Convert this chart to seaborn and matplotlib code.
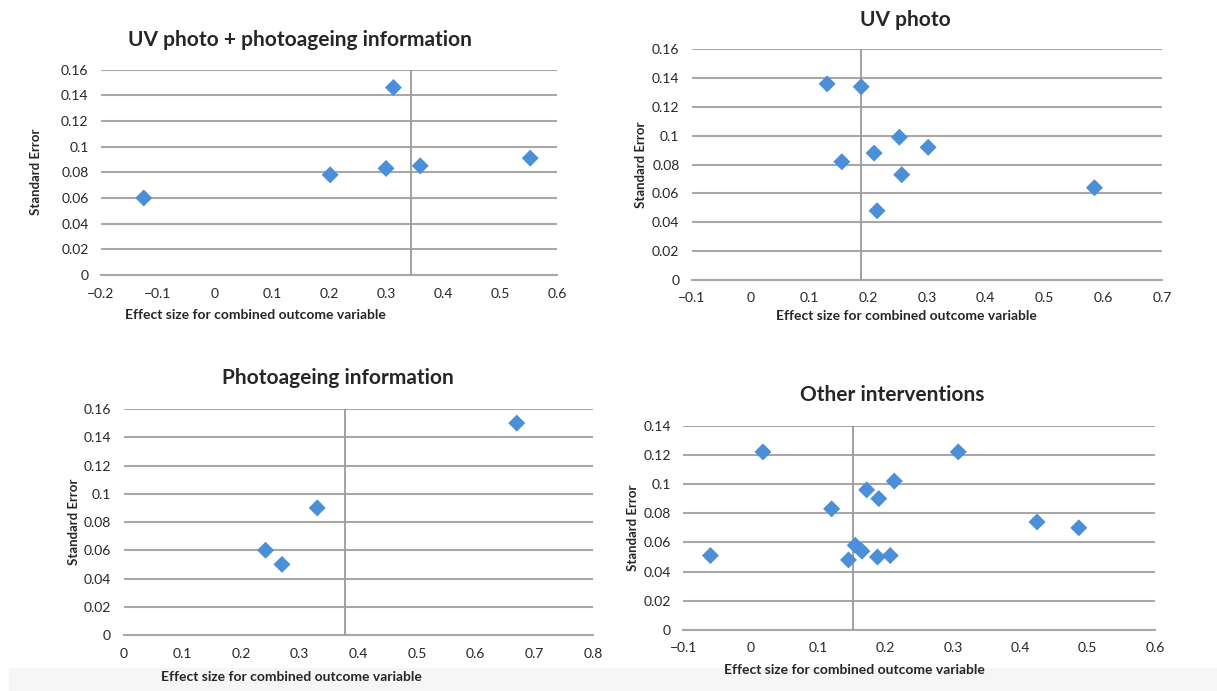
import matplotlib.pyplot as plt
import pandas as pd
import seaborn as sns
from matplotlib.patches import Rectangle
from matplotlib.ticker import FuncFormatter

# panel titles
titles = ["UV photo + photoageing information", "UV photo",
          "Photoageing information", "Other interventions"]

# UV photo + photoageing information
uv_info_effect = [-0.125, 0.202, 0.300, 0.313, 0.360, 0.553]
uv_info_se = [0.060, 0.078, 0.083, 0.146, 0.085, 0.091]

# UV photo
uv_effect = [0.130, 0.188, 0.155, 0.210, 0.253, 0.302, 0.257, 0.215, 0.585]
uv_se = [0.136, 0.134, 0.082, 0.088, 0.099, 0.092, 0.073, 0.048, 0.064]

# Photoageing information
info_effect = [0.242, 0.270, 0.330, 0.670]
info_se = [0.060, 0.050, 0.090, 0.150]

# Other interventions
other_effect = [-0.060, 0.018, 0.120, 0.145, 0.155, 0.165, 0.172, 0.188,
                0.190, 0.207, 0.213, 0.308, 0.425, 0.487]
other_se = [0.051, 0.122, 0.083, 0.048, 0.058, 0.054, 0.096, 0.050,
            0.090, 0.051, 0.102, 0.122, 0.074, 0.070]

# pooled effect (vertical reference line) per panel
pooled = [0.344, 0.188, 0.378, 0.152]

# axis ticks per panel
x_ticks = [
    [-0.2, -0.1, 0, 0.1, 0.2, 0.3, 0.4, 0.5, 0.6],
    [-0.1, 0, 0.1, 0.2, 0.3, 0.4, 0.5, 0.6, 0.7],
    [0, 0.1, 0.2, 0.3, 0.4, 0.5, 0.6, 0.7, 0.8],
    [-0.1, 0, 0.1, 0.2, 0.3, 0.4, 0.5, 0.6],
]
y_ticks = [
    [0, 0.02, 0.04, 0.06, 0.08, 0.1, 0.12, 0.14, 0.16],
    [0, 0.02, 0.04, 0.06, 0.08, 0.1, 0.12, 0.14, 0.16],
    [0, 0.02, 0.04, 0.06, 0.08, 0.1, 0.12, 0.14, 0.16],
    [0, 0.02, 0.04, 0.06, 0.08, 0.1, 0.12, 0.14],
]

x_label = "Effect size for combined outcome variable"
y_label = "Standard Error"

panels = [
    pd.DataFrame({"effect": uv_info_effect, "se": uv_info_se}),
    pd.DataFrame({"effect": uv_effect, "se": uv_se}),
    pd.DataFrame({"effect": info_effect, "se": info_se}),
    pd.DataFrame({"effect": other_effect, "se": other_se}),
]

# layout: axes rects, title positions, label offsets (figure / axes fractions)
rects = [
    [0.0830, 0.6020, 0.3747, 0.2974],
    [0.5686, 0.5948, 0.3862, 0.3339],
    [0.1015, 0.0810, 0.3858, 0.3271],
    [0.5616, 0.0883, 0.3874, 0.2957],
]
title_pos = [(0.2465, 0.942), (0.7436, 0.971), (0.2777, 0.453), (0.733, 0.428)]
xlabel_pos = [(0.338, -0.195), (0.457, -0.156), (0.357, -0.186), (0.362, -0.196)]
ylabel_x = [-0.142, -0.108, -0.105, -0.107]

sns.set_style("white")
plt.rcParams["font.family"] = ["Lato", "DejaVu Sans"]

grid_col = "#a8a8a8"
fmt = FuncFormatter(lambda v, p: f"{v:g}".replace("-", "\u2212"))

fig = plt.figure(figsize=(12.17, 6.91), dpi=100)
# light grey strip along the bottom edge of the source image
fig.patches.append(Rectangle((0.007, 0), 0.993, 23 / 691, transform=fig.transFigure,
                             color="#f6f6f6", zorder=-5))

for i, df in enumerate(panels):
    ax = fig.add_axes(rects[i])
    ax.set_facecolor("none")
    sns.scatterplot(data=df, x="effect", y="se", marker="D", s=75,
                    color="#4a8fd8", edgecolor="none", ax=ax, zorder=4, clip_on=False)
    ax.axvline(pooled[i], color="#9a9a9a", lw=1.3, zorder=3)

    ax.set_xticks(x_ticks[i])
    ax.set_yticks(y_ticks[i])
    ax.set_xlim(x_ticks[i][0], x_ticks[i][-1])
    ax.set_ylim(y_ticks[i][0], y_ticks[i][-1])
    ax.xaxis.set_major_formatter(fmt)
    ax.yaxis.set_major_formatter(fmt)

    ax.grid(axis="y", color=grid_col, lw=1.5)
    ax.set_axisbelow(True)
    for side in ["left", "right", "top"]:
        ax.spines[side].set_visible(False)
    ax.spines["bottom"].set_color(grid_col)
    ax.spines["bottom"].set_linewidth(1.5)
    ax.tick_params(axis="x", direction="out", length=4, width=1.2, color=grid_col,
                   labelsize=10, pad=5)
    ax.tick_params(axis="y", length=0, labelsize=10, pad=9)

    ax.set_xlabel(x_label, fontsize=10, fontweight="bold", va="center")
    ax.xaxis.set_label_coords(*xlabel_pos[i])
    ax.set_ylabel(y_label, fontsize=9.5, fontweight="bold", va="center")
    ax.yaxis.set_label_coords(ylabel_x[i], 0.5)

    fig.text(title_pos[i][0], title_pos[i][1], titles[i], ha="center", va="center",
             fontsize=15, fontweight="bold")

fig.savefig("out.png", dpi=100)
